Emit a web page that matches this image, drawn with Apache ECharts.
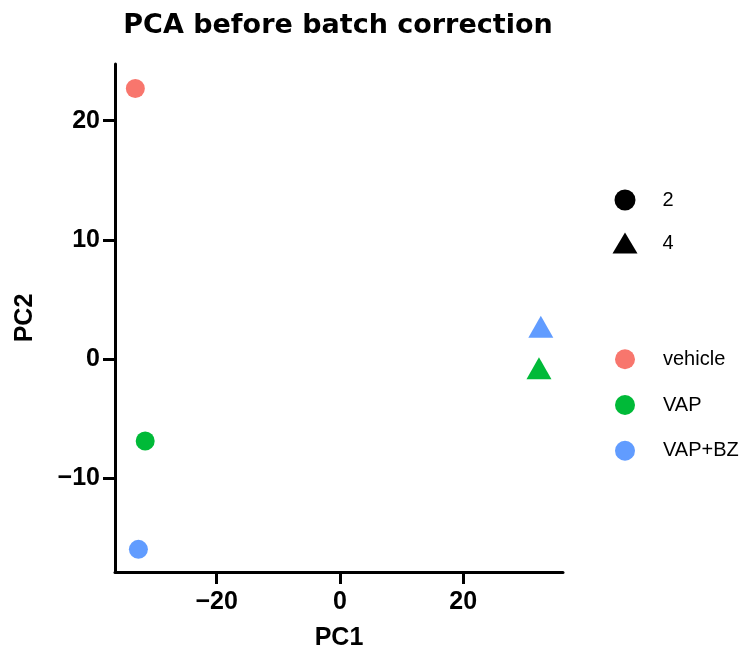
<!DOCTYPE html>
<html>
<head>
<meta charset="utf-8">
<script src="https://cdn.jsdelivr.net/npm/echarts@6/dist/echarts.min.js"></script>
<style>
  html, body { margin: 0; padding: 0; background: #fff; }
  #chart { width: 747px; height: 653px; }
</style>
</head>
<body>
<div id="chart"></div>
<script>
// Groups and their colours
const groups = ['vehicle', 'VAP', 'VAP+BZ'];
const groupColors = ['#F8766D', '#00BA38', '#619CFF'];

// Batch labels and their marker shapes
const batches = ['2', '4'];
const batchSymbols = ['circle', 'triangle'];

// PCA coordinates per group: [PC1, PC2, batch index]
const vehiclePoints = [[-33.2, 22.7, 0]];
const vapPoints = [[-31.6, -6.9, 0], [32.3, -0.8, 1]];
const vapBzPoints = [[-32.7, -16.0, 0], [32.6, 2.7, 1]];

// Axis ticks
const xTicks = [-20, 0, 20];
const yTicks = [-10, 0, 10, 20];

const font = "'Liberation Sans', Arial, sans-serif";
const titleFont = "'DejaVu Sans', 'Liberation Sans', sans-serif";
const fmt = v => (v < 0 ? '\u2212' + Math.abs(v) : String(v));
const symbolSizes = { circle: 19, triangle: [25, 22] };

function toData(points) {
  return points.map(p => {
    const sym = batchSymbols[p[2]];
    return { value: [p[0], p[1]], symbol: sym, symbolSize: symbolSizes[sym] };
  });
}

const groupPoints = [vehiclePoints, vapPoints, vapBzPoints];

const series = groups.map((g, i) => ({
  name: g,
  type: 'scatter',
  data: toData(groupPoints[i]),
  itemStyle: { color: groupColors[i], opacity: 1 },
  emphasis: { disabled: true }
}));

// Legend-only series for the batch shapes
batches.forEach((b, i) => {
  series.push({
    name: b,
    type: 'scatter',
    symbol: batchSymbols[i],
    data: [],
    itemStyle: { color: '#000', opacity: 1 }
  });
});

const axisCommon = {
  type: 'value',
  axisLine: { show: true, onZero: false, lineStyle: { color: '#000', width: 3 } },
  axisTick: { show: true, inside: false, length: 12, lineStyle: { color: '#000', width: 3 } },
  splitLine: { show: false },
  nameLocation: 'middle',
  nameTextStyle: { fontFamily: font, fontSize: 25, fontWeight: 'bold', color: '#000' }
};

const tickLabel = { fontFamily: font, fontSize: 25, fontWeight: 'bold', color: '#000' };

const chart = echarts.init(document.getElementById('chart'), null, { renderer: 'canvas' });
chart.setOption({
  animation: false,
  backgroundColor: '#fff',
  title: {
    text: 'PCA before batch correction',
    left: 338,
    textAlign: 'center',
    top: 12,
    padding: 0,
    textStyle: { fontFamily: titleFont, fontSize: 27, fontWeight: 'bold', color: '#000' }
  },
  grid: { left: 115, right: 184, top: 64, bottom: 81, containLabel: false, outerBoundsMode: 'none' },
  xAxis: Object.assign({}, axisCommon, {
    min: -36.5, max: 36.2,
    name: 'PC1', nameGap: 54,
    axisTick: Object.assign({}, axisCommon.axisTick, { customValues: xTicks }),
    axisLabel: Object.assign({ customValues: xTicks, formatter: fmt, margin: 18 }, tickLabel)
  }),
  yAxis: Object.assign({}, axisCommon, {
    min: -17.9, max: 24.76,
    name: 'PC2', nameGap: 77,
    axisTick: Object.assign({}, axisCommon.axisTick, { customValues: yTicks }),
    axisLabel: Object.assign({ customValues: yTicks, formatter: fmt, margin: 15 }, tickLabel)
  }),
  legend: [
    {
      data: batches.map((b, i) => ({ name: b, icon: batchSymbols[i], itemStyle: { color: '#000', opacity: 1 } })),
      orient: 'vertical',
      left: 612.5, top: 189.5,
      padding: 0,
      itemWidth: 25, itemHeight: 21, itemGap: 22,
      selectedMode: false,
      textStyle: { fontFamily: font, fontSize: 20, color: '#000', padding: [0, 0, 0, 20] }
    },
    {
      data: groups.map((g, i) => ({ name: g, icon: 'circle', itemStyle: { color: groupColors[i] } })),
      orient: 'vertical',
      left: 615, top: 349.3,
      padding: 0,
      itemWidth: 20, itemHeight: 20, itemGap: 25.7,
      selectedMode: false,
      textStyle: { fontFamily: font, fontSize: 20, color: '#000', padding: [0, 0, 0, 23] }
    }
  ],
  series: series
});
</script>
</body>
</html>
